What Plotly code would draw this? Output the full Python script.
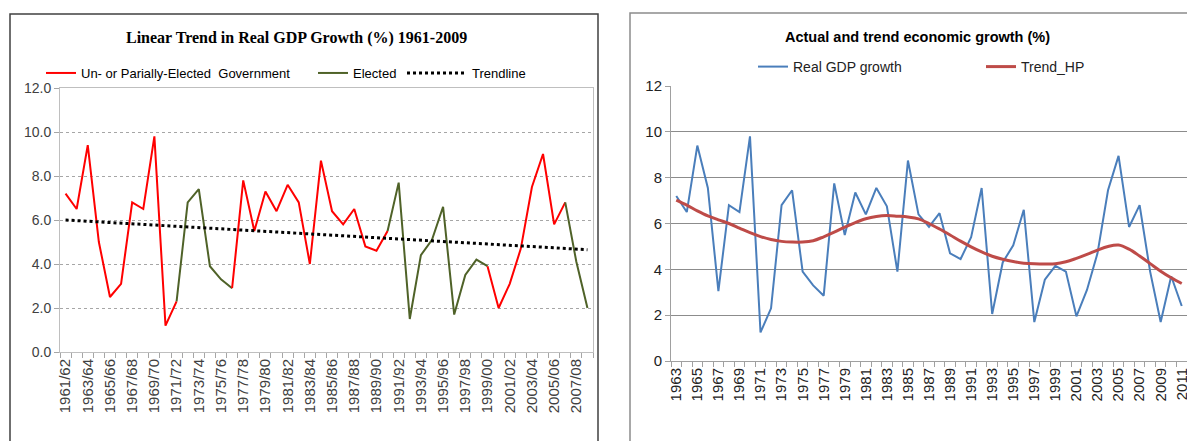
import plotly.graph_objects as go

# 左图：财年实际GDP增长（%）
fy_labels = [f"{y}/{str(y + 1)[-2:]}" for y in range(1961, 2009)]
gdp_fy = [7.2, 6.5, 9.4, 5.0, 2.5, 3.1, 6.8, 6.5, 9.8, 1.2, 2.3,
          6.8, 7.4, 3.9, 3.3, 2.9,
          7.8, 5.5, 7.3, 6.4, 7.6, 6.8, 4.0, 8.7, 6.4, 5.8, 6.5, 4.8, 4.6, 5.5,
          7.7, 1.5, 4.4, 5.1, 6.6, 1.7, 3.5, 4.2, 3.9,
          2.0, 3.1, 4.7, 7.5, 9.0, 5.8, 6.8, 4.1, 2.0]
# 政府类型分段 (起点, 终点, 类型)
regimes = [(0, 10, "un"), (10, 15, "el"), (15, 29, "un"),
           (29, 38, "el"), (38, 45, "un"), (45, 47, "el")]
trend_ends = [6.0, 4.65]

# 右图：年度实际GDP增长与HP趋势
years = [str(y) for y in range(1963, 2012)]
gdp_yr = [7.2, 6.5, 9.4, 7.55, 3.05, 6.8, 6.5, 9.8, 1.25, 2.3,
          6.8, 7.45, 3.9, 3.3, 2.85, 7.75, 5.5, 7.35, 6.4, 7.55,
          6.75, 3.9, 8.75, 6.4, 5.85, 6.45, 4.7, 4.45, 5.4, 7.55,
          2.05, 4.3, 5.05, 6.6, 1.7, 3.55, 4.15, 3.9, 1.95, 3.1,
          4.7, 7.45, 8.95, 5.85, 6.8, 3.9, 1.7, 3.7, 2.4]
trend_hp = [7.02, 6.8, 6.55, 6.33, 6.16, 6.0, 5.8, 5.6, 5.43, 5.3,
            5.22, 5.19, 5.19, 5.25, 5.42, 5.62, 5.84, 6.04, 6.21, 6.31,
            6.35, 6.32, 6.28, 6.2, 6.0, 5.76, 5.5, 5.23, 4.98, 4.76,
            4.57, 4.44, 4.34, 4.27, 4.24, 4.23, 4.24, 4.33, 4.48, 4.65,
            4.84, 5.0, 5.06, 4.88, 4.58, 4.25, 3.92, 3.63, 3.38]

W, H = 1187, 441
SANS = "Liberation Sans, Arial, sans-serif"

fig = go.Figure()

names = {"un": "Un- or Parially-Elected  Government", "el": "Elected"}
colors = {"un": "#ff0000", "el": "#4f6228"}
legends = {"un": "legend", "el": "legend2"}
shown = set()
for a, b, kind in regimes:
    fig.add_trace(go.Scatter(
        x=fy_labels[a:b + 1], y=gdp_fy[a:b + 1], mode="lines",
        line=dict(color=colors[kind], width=2),
        name=names[kind], legendgroup=kind, showlegend=kind not in shown,
        xaxis="x", yaxis="y", legend=legends[kind]))
    shown.add(kind)

fig.add_trace(go.Scatter(
    x=[fy_labels[0], fy_labels[-1]], y=trend_ends, mode="lines",
    line=dict(color="black", width=3, dash="dot"),
    name="Trendline", xaxis="x", yaxis="y", legend="legend3"))

fig.add_trace(go.Scatter(
    x=years, y=gdp_yr, mode="lines", line=dict(color="#4a7ebb", width=2),
    name="Real GDP growth", xaxis="x2", yaxis="y2", legend="legend4"))
fig.add_trace(go.Scatter(
    x=years, y=trend_hp, mode="lines", line=dict(color="#be4b48", width=3, shape="spline"),
    name="Trend_HP", xaxis="x2", yaxis="y2", legend="legend5"))


def leg(x, y, size, color, **kw):
    return dict(orientation="h", x=x / W, y=1 - y / H, xanchor="left", yanchor="middle",
                bgcolor="rgba(0,0,0,0)", font=dict(family=SANS, size=size, color=color), **kw)


fig.update_layout(
    width=W, height=H, margin=dict(l=0, r=0, t=0, b=0, autoexpand=False),
    paper_bgcolor="white", plot_bgcolor="white",
    font=dict(family=SANS, color="#404040"),
    xaxis=dict(domain=[60 / W, 593 / W], type="category",
               tickvals=fy_labels,
               ticktext=[s if i % 2 == 0 else "" for i, s in enumerate(fy_labels)],
               tickangle=-90, tickson="boundaries", ticks="outside", ticklen=5,
               tickcolor="#a6a6a6", showline=True, linecolor="#bfbfbf", mirror=True,
               showgrid=False, range=[-0.5, 47.5],
               tickfont=dict(family=SANS, size=15, color="#404040")),
    yaxis=dict(domain=[1 - 352 / H, 1 - 88 / H], range=[0, 12], dtick=2,
               tickformat=".1f", showgrid=True, gridcolor="#a6a6a6", griddash="dot",
               ticks="outside", ticklen=5, tickcolor="#a6a6a6",
               showline=True, linecolor="#bfbfbf", mirror=True, zeroline=False,
               tickfont=dict(family=SANS, size=14, color="#404040")),
    xaxis2=dict(domain=[671 / W, 1.0], type="category", anchor="y2",
                tickvals=years,
                ticktext=[s if i % 2 == 0 else "" for i, s in enumerate(years)],
                tickangle=-90, tickson="boundaries", ticks="outside", ticklen=5,
                tickcolor="#a0a0a0", showline=True, linecolor="#a0a0a0",
                showgrid=False, range=[-0.5, 48.5],
                tickfont=dict(family=SANS, size=15, color="#222222")),
    yaxis2=dict(domain=[1 - 361 / H, 1 - 86 / H], range=[0, 12], dtick=2,
                anchor="x2", showgrid=True, gridcolor="#8c8c8c", gridwidth=1,
                ticks="outside", ticklen=5, tickcolor="#a0a0a0",
                showline=True, linecolor="#a0a0a0", zeroline=False,
                tickfont=dict(family=SANS, size=15, color="#222222")),
    legend=leg(41, 73, 13, "#000000"),
    legend2=leg(313, 73, 13, "#000000"),
    legend3=leg(402, 73, 13, "#000000", itemwidth=60),
    legend4=leg(753, 67, 14, "#222222"),
    legend5=leg(981, 67, 14, "#222222"),
    annotations=[
        dict(text="<b>Linear Trend in Real GDP Growth (%) 1961-2009</b>",
             x=297 / W, y=1 - 38 / H, xref="paper", yref="paper", showarrow=False,
             xanchor="center", yanchor="middle",
             font=dict(family="Liberation Serif, Times New Roman, serif", size=16, color="black")),
        dict(text="<b>Actual and trend economic growth (%)</b>",
             x=917 / W, y=1 - 37 / H, xref="paper", yref="paper", showarrow=False,
             xanchor="center", yanchor="middle",
             font=dict(family=SANS, size=14.5, color="black")),
    ],
    shapes=[
        dict(type="rect", xref="paper", yref="paper", x0=10 / W, x1=598 / W,
             y0=-0.05, y1=1 - 14 / H, line=dict(color="#404040", width=1.5)),
        dict(type="rect", xref="paper", yref="paper", x0=630 / W, x1=1.05,
             y0=-0.05, y1=1 - 13 / H, line=dict(color="#8c8c8c", width=1.5)),
    ],
)

# 去掉页面默认边距，让图从左上角开始
fig.write_html("out.html", config={"displayModeBar": False},
               post_script="document.body.style.margin='0';")
